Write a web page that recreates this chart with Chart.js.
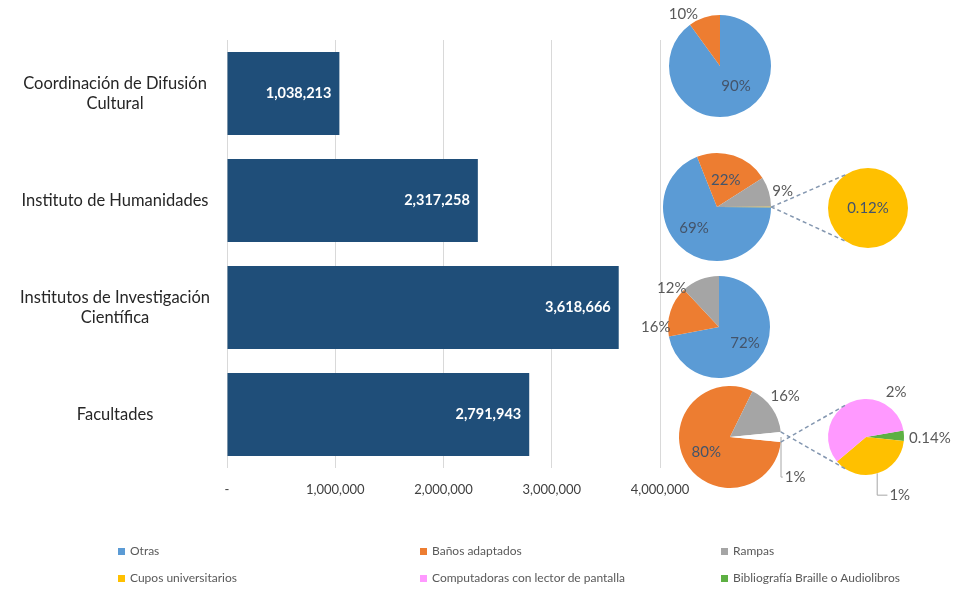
<!DOCTYPE html>
<html>
<head>
<meta charset="utf-8">
<script src="https://cdn.jsdelivr.net/npm/chart.js@4"></script>
<style>
  body { margin: 0; background: #fff; font-family: Lato, sans-serif; }
  #wrap { position: relative; width: 967px; height: 592px; overflow: hidden; background: #fff; }
  canvas { position: absolute; }
  .item { position: absolute; font-size: 12px; color: #595959; display: flex; align-items: center; line-height: 14px; }
  .item i { display: inline-block; width: 7px; height: 7px; margin-right: 5px; }
</style>
</head>
<body>
<div id="wrap">
  <canvas id="bars" width="967" height="515" style="left:0;top:0"></canvas>
</div>
<script>
// bar chart data
const categories = [
  ["Coordinación de Difusión", "Cultural"],
  "Instituto de Humanidades",
  ["Institutos de Investigación", "Científica"],
  "Facultades"
];
const totals = [1038213, 2317258, 3618666, 2791943];
const xTickStep = 1000000;
const xMax = 4000000;

// series shown in the pies
const seriesNames = ["Otras", "Baños adaptados", "Rampas", "Cupos universitarios",
  "Computadoras con lector de pantalla", "Bibliografía Braille o Audiolibros"];
const seriesColors = ["#5B9BD5", "#ED7D31", "#A5A5A5", "#FFC000", "#FF99FF", "#5DB043"];

// pie values (percent)
const coordShares = [90, 10];                 // Otras, Baños
const coordLabels = ["90%", "10%"];
const humanShares = [69, 22, 9, 0.12];        // Otras, Baños, Rampas, Cupos
const humanLabels = ["69%", "22%", "9%", ""];
const humanDetail = [0.12];                   // Cupos
const humanDetailLabels = ["0.12%"];
const investShares = [72, 16, 12];            // Otras, Baños, Rampas
const investLabels = ["72%", "16%", "12%"];
const facultShares = [80, 16, 3.15];          // Baños, Rampas, otros
const facultLabels = ["80%", "16%", "1%"];
const facultDetail = [0.14, 1.17, 1.84];      // Bibliografía, Cupos, Computadoras
const facultDetailLabels = ["0.14%", "1%", "2%"];

const wrap = document.getElementById("wrap");

// value labels inside bars
const barValues = {
  id: "barValues",
  afterDatasetsDraw(chart) {
    const ctx = chart.ctx;
    ctx.save();
    ctx.font = "bold 14.5px Lato";
    ctx.fillStyle = "#fff";
    ctx.textAlign = "right";
    ctx.textBaseline = "middle";
    chart.getDatasetMeta(0).data.forEach((bar, i) => {
      ctx.fillText(totals[i].toLocaleString("en-US"), bar.x - 8, bar.y);
    });
    ctx.restore();
  }
};

new Chart(document.getElementById("bars"), {
  type: "bar",
  data: {
    labels: categories,
    datasets: [{
      data: totals,
      backgroundColor: "#1F4E79",
      barPercentage: 0.776,
      categoryPercentage: 1
    }]
  },
  options: {
    indexAxis: "y",
    responsive: false,
    animation: false,
    layout: { padding: { top: 40, right: 307, left: 0, bottom: 0 } },
    plugins: { legend: { display: false }, tooltip: { enabled: false } },
    scales: {
      x: {
        min: 0,
        max: xMax,
        ticks: {
          stepSize: xTickStep,
          padding: 14,
          color: "#404040",
          font: { family: "Lato", size: 13 },
          callback: v => v === 0 ? "-" : v.toLocaleString("en-US")
        },
        grid: { color: "#d9d9d9", drawTicks: false },
        border: { display: false },
        afterFit: s => { s.height = 47; }
      },
      y: {
        grid: { display: false },
        border: { display: false },
        ticks: {
          crossAlign: "center",
          padding: 9,
          color: "#262626",
          font: { family: "Lato", size: 16.5 }
        },
        afterFit: s => { s.width = 227; }
      }
    }
  },
  plugins: [barValues]
});

// percentage labels around slices
function sliceLabels(texts, dist, shift, leader) {
  return {
    id: "sliceLabels",
    afterDraw(chart) {
      const ctx = chart.ctx;
      ctx.save();
      ctx.font = "15px Lato";
      ctx.textAlign = "center";
      ctx.textBaseline = "middle";
      chart.getDatasetMeta(0).data.forEach((a, i) => {
        const t = texts[i];
        if (!t) return;
        const r = a.outerRadius;
        const m = (a.startAngle + a.endAngle) / 2;
        const ang = m + shift[i] * Math.PI / 180;
        const x = a.x + Math.cos(ang) * r * dist[i];
        const y = a.y + Math.sin(ang) * r * dist[i];
        if (leader && leader[i]) {
          const sx = a.x + Math.cos(m) * r, sy = a.y + Math.sin(m) * r;
          const w = ctx.measureText(t).width;
          ctx.strokeStyle = "#a6a6a6";
          ctx.lineWidth = 1;
          ctx.beginPath();
          ctx.moveTo(sx, sy);
          ctx.lineTo(sx, y);
          ctx.lineTo(x - w / 2 - 2, y);
          ctx.stroke();
        }
        ctx.fillStyle = dist[i] < 1 ? "#44546A" : "#595959";
        ctx.fillText(t, x, y);
      });
      ctx.restore();
    }
  };
}

function makePie(cx, cy, r, values, colors, rotation, lbl) {
  const S = 200;
  const c = document.createElement("canvas");
  c.width = S; c.height = S;
  c.style.left = (cx - S / 2) + "px";
  c.style.top = (cy - S / 2) + "px";
  wrap.appendChild(c);
  const chart = new Chart(c, {
    type: "pie",
    data: { datasets: [{ data: values, backgroundColor: colors, borderWidth: 0 }] },
    options: {
      responsive: false,
      animation: false,
      rotation: rotation,
      layout: { padding: S / 2 - r },
      plugins: { legend: { display: false }, tooltip: { enabled: false } }
    },
    plugins: [sliceLabels(lbl.texts, lbl.dist, lbl.shift, lbl.leader)]
  });
  chart.left = cx - S / 2;
  chart.top = cy - S / 2;
  return chart;
}

const halfLast = v => v[v.length - 1] / v.reduce((a, b) => a + b, 0) * 180;

makePie(720, 66, 51, coordShares, [seriesColors[0], seriesColors[1]], 0,
  { texts: coordLabels, dist: [0.5, 1.25], shift: [-21, -17] });

const humanPie = makePie(717, 207, 54, humanShares,
  [seriesColors[0], seriesColors[1], seriesColors[2], seriesColors[3]], 90 + halfLast(humanShares),
  { texts: humanLabels, dist: [0.58, 0.53, 1.25, 0], shift: [13, 0, 3, 0] });
const humanSub = makePie(868, 208, 40, humanDetail, [seriesColors[3]], 0,
  { texts: humanDetailLabels, dist: [0], shift: [0] });

makePie(719, 327, 51, investShares, [seriesColors[0], seriesColors[1], seriesColors[2]], 0,
  { texts: investLabels, dist: [0.6, 1.24, 1.2], shift: [-8, -18, -29] });

const facultPie = makePie(730, 437, 51, facultShares, [seriesColors[1], seriesColors[2], "#ffffff"],
  90 + halfLast(facultShares),
  { texts: facultLabels, dist: [0.55, 1.35, 1.5], shift: [-3, -2, 31.6], leader: [0, 0, 1] });
const facultSub = makePie(866, 437, 38, facultDetail, [seriesColors[5], seriesColors[3], seriesColors[4]], 80,
  { texts: facultDetailLabels, dist: [1.68, 1.77, 1.42], shift: [3, -13, 59], leader: [0, 1, 0] });

// dashed connectors from the "other" slice to the secondary pie
const over = document.createElement("canvas");
over.width = 967; over.height = 592;
over.style.left = "0px"; over.style.top = "0px";
wrap.appendChild(over);
const octx = over.getContext("2d");
function connect(main, sub) {
  const arcs = main.getDatasetMeta(0).data;
  const a = arcs[arcs.length - 1];
  const b = sub.getDatasetMeta(0).data[0];
  const ax = main.left + a.x, ay = main.top + a.y, ar = a.outerRadius;
  const bx = sub.left + b.x, by = sub.top + b.y, br = b.outerRadius;
  const spread = 57 * Math.PI / 180;
  octx.save();
  octx.strokeStyle = "#8497B0";
  octx.lineWidth = 1.5;
  octx.setLineDash([4, 3]);
  octx.beginPath();
  octx.moveTo(ax + Math.cos(a.endAngle) * ar, ay + Math.sin(a.endAngle) * ar);
  octx.lineTo(bx + Math.cos(Math.PI + spread) * br, by + Math.sin(Math.PI + spread) * br);
  octx.moveTo(ax + Math.cos(a.startAngle) * ar, ay + Math.sin(a.startAngle) * ar);
  octx.lineTo(bx + Math.cos(Math.PI - spread) * br, by + Math.sin(Math.PI - spread) * br);
  octx.stroke();
  octx.restore();
}
connect(humanPie, humanSub);
connect(facultPie, facultSub);

// legend
const legendCols = [118, 420, 721];
const legendRows = [544, 571];
seriesNames.forEach((name, i) => {
  const d = document.createElement("div");
  d.className = "item";
  d.style.left = legendCols[i % 3] + "px";
  d.style.top = legendRows[Math.floor(i / 3)] + "px";
  d.innerHTML = '<i style="background:' + seriesColors[i] + '"></i>' + name;
  wrap.appendChild(d);
});
</script>
</body>
</html>
